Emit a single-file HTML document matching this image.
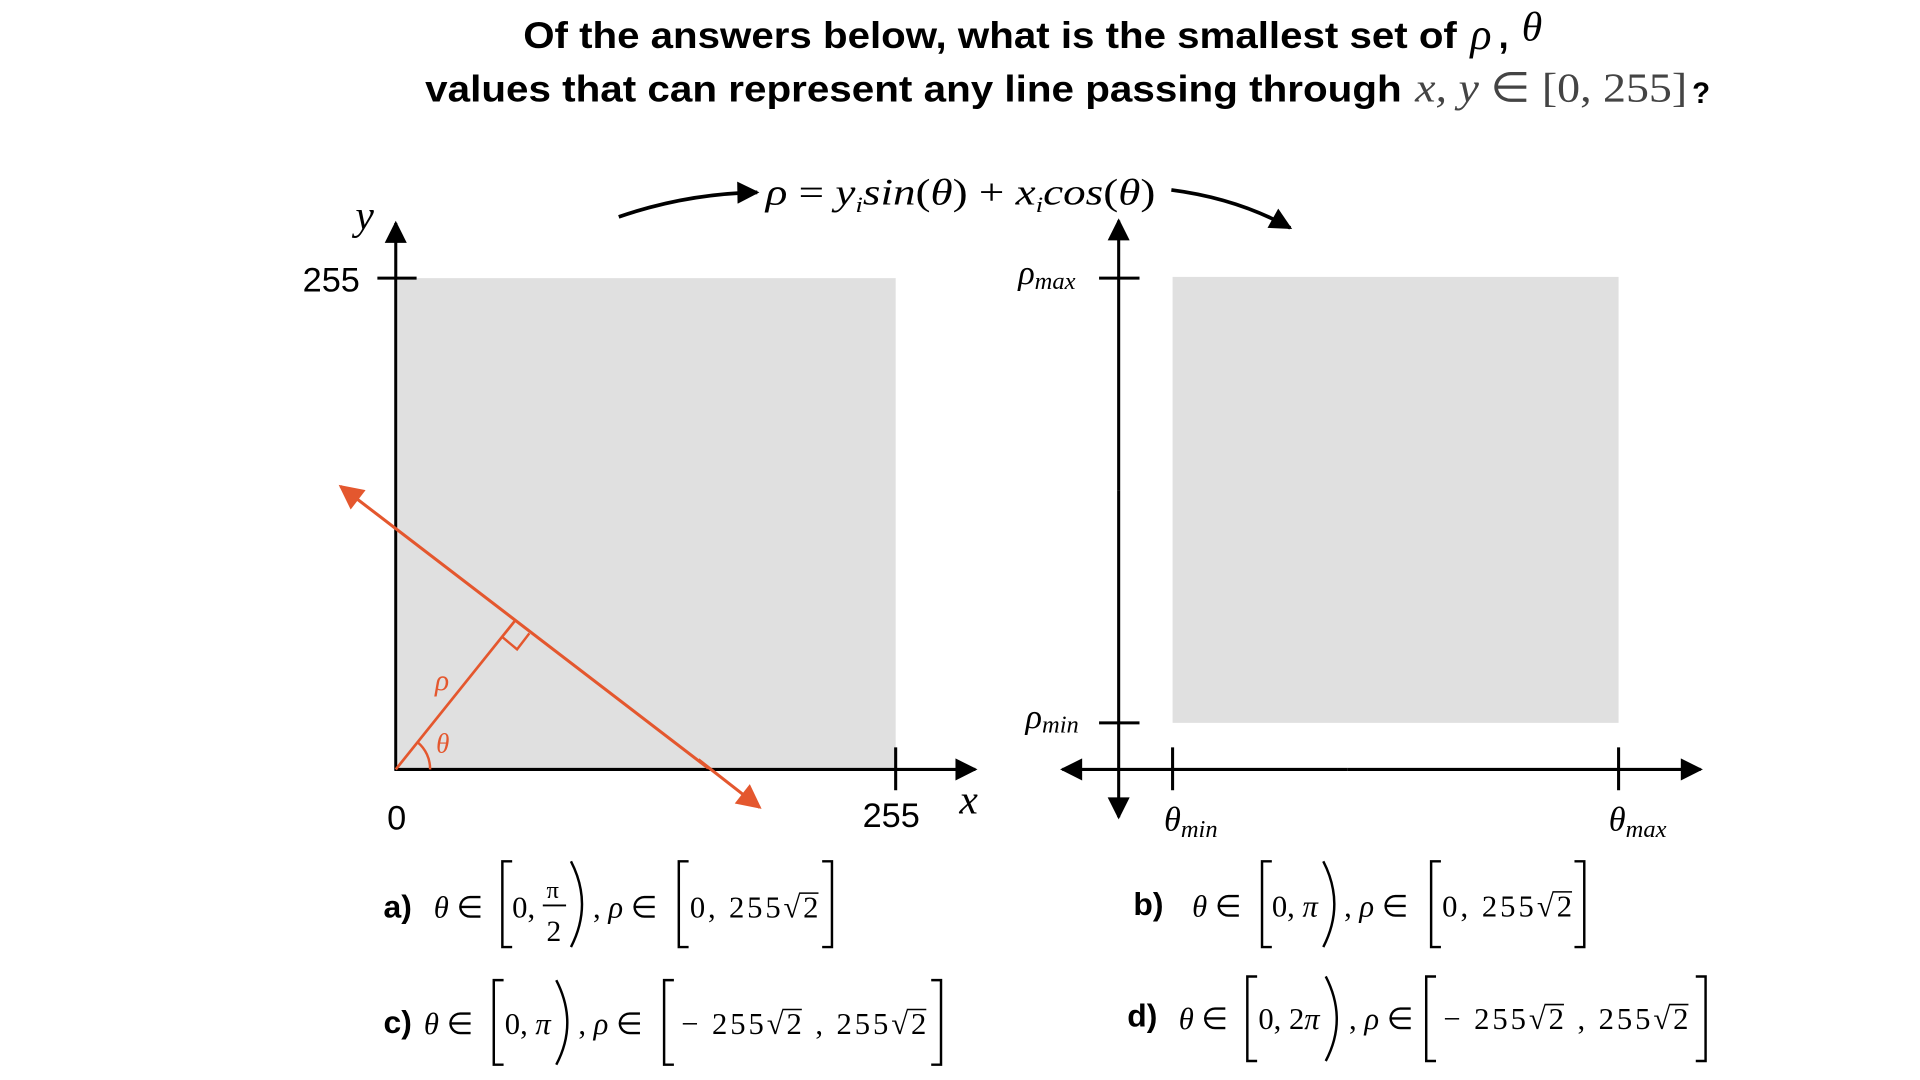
<!DOCTYPE html>
<html><head><meta charset="utf-8"><style>
html,body{margin:0;padding:0;background:#fff;width:1920px;height:1080px;overflow:hidden}
svg{display:block}
.t{font-family:"Liberation Sans",sans-serif;font-weight:bold;font-size:30px;fill:#000}
.m{font-family:"Liberation Serif",serif;font-style:italic;fill:#000}
.r{font-family:"Liberation Serif",serif;fill:#000}
.s{font-family:"Liberation Sans",sans-serif;fill:#000}
</style></head><body>
<svg id="fig" width="1920" height="1080" viewBox="0 0 1567 881.5" preserveAspectRatio="none">
<defs>
<marker id="ab" viewBox="0 0 10 10" refX="9" refY="5" markerWidth="26" markerHeight="18" orient="auto-start-reverse" markerUnits="userSpaceOnUse"><path d="M0,0 L10,5 L0,10 z" fill="#000"/></marker>
<marker id="ao" viewBox="0 0 10 10" refX="9" refY="5" markerWidth="26" markerHeight="20" orient="auto-start-reverse" markerUnits="userSpaceOnUse"><path d="M0,0 L10,5 L0,10 z" fill="#e4572e"/></marker>
</defs>
<g>
<text class="t" x="427" y="39" textLength="762" lengthAdjust="spacingAndGlyphs">Of the answers below, what is the smallest set of</text>
<text class="m" x="1200" y="40" font-size="36">ρ</text><text class="t" x="1223" y="39">,</text><text class="m" x="1242" y="33" font-size="34">θ</text>
<text class="t" x="347" y="83" textLength="797" lengthAdjust="spacingAndGlyphs">values that can represent any line passing through</text>
<text class="m" x="1155" y="83" font-size="34" style="fill:#444" textLength="222" lengthAdjust="spacingAndGlyphs">x, y <tspan style="font-style:normal">∈ [0, 255]</tspan></text>
<text class="t" x="1381" y="84" style="font-size:24px">?</text>
</g>
<g>
<path d="M505,177 Q560,158 618,157" fill="none" stroke="#000" stroke-width="3" marker-end="url(#ab)"/>
<text class="m" x="625" y="167" font-size="30" textLength="318" lengthAdjust="spacingAndGlyphs">ρ <tspan style="font-style:normal">=</tspan> y<tspan font-size="18" dy="6">i</tspan><tspan dy="-6">sin</tspan><tspan style="font-style:normal">(</tspan>θ<tspan style="font-style:normal">) + </tspan>x<tspan font-size="18" dy="6">i</tspan><tspan dy="-6">cos</tspan><tspan style="font-style:normal">(</tspan>θ<tspan style="font-style:normal">)</tspan></text>
<path d="M956,155 Q1010,162 1053,186" fill="none" stroke="#000" stroke-width="3" marker-end="url(#ab)"/>
</g>
<g>
<rect x="325" y="227" width="406" height="401" fill="#e0e0e0"/>
<line x1="323" y1="629" x2="323" y2="182" stroke="#000" stroke-width="2.5" marker-end="url(#ab)"/>
<line x1="322" y1="628" x2="796" y2="628" stroke="#000" stroke-width="2.5" marker-end="url(#ab)"/>
<line x1="308" y1="227" x2="340" y2="227" stroke="#000" stroke-width="2.5"/>
<line x1="731" y1="610" x2="731" y2="645" stroke="#000" stroke-width="2.5"/>
<text class="s" x="247" y="238" font-size="28">255</text>
<text class="s" x="316" y="677" font-size="28">0</text>
<text class="s" x="704" y="675" font-size="28">255</text>
<text class="m" x="783" y="664" font-size="34">x</text>
<text class="m" x="290" y="187" font-size="34">y</text>
<line x1="578" y1="627" x2="278" y2="397" stroke="#e4572e" stroke-width="2.5" marker-end="url(#ao)"/>
<line x1="570" y1="620" x2="620" y2="659" stroke="#e4572e" stroke-width="2.5" marker-end="url(#ao)"/>
<line x1="323" y1="628" x2="420" y2="507" stroke="#e4572e" stroke-width="2.2"/>
<path d="M410,520 L422,530 L432,517" fill="none" stroke="#e4572e" stroke-width="2"/>
<path d="M351,628 A28,28 0 0 0 341,606" fill="none" stroke="#e4572e" stroke-width="2"/>
<text class="m" x="355" y="563" font-size="24" style="fill:#e4572e">ρ</text>
<text class="m" x="356" y="614" font-size="22" style="fill:#e4572e">θ</text>
</g>
<g>
<rect x="957" y="226" width="364" height="364" fill="#e0e0e0"/>
<line x1="913" y1="400" x2="913" y2="180" stroke="#000" stroke-width="2.5" marker-end="url(#ab)"/>
<line x1="913" y1="400" x2="913" y2="667" stroke="#000" stroke-width="2.5" marker-end="url(#ab)"/>
<line x1="1100" y1="628" x2="867" y2="628" stroke="#000" stroke-width="2.5" marker-end="url(#ab)"/>
<line x1="1100" y1="628" x2="1388" y2="628" stroke="#000" stroke-width="2.5" marker-end="url(#ab)"/>
<line x1="897" y1="227" x2="930" y2="227" stroke="#000" stroke-width="2.5"/>
<line x1="897" y1="590" x2="930" y2="590" stroke="#000" stroke-width="2.5"/>
<line x1="957" y1="610" x2="957" y2="645" stroke="#000" stroke-width="2.5"/>
<line x1="1321" y1="610" x2="1321" y2="645" stroke="#000" stroke-width="2.5"/>
<text class="m" x="831" y="232" font-size="28">ρ<tspan font-size="20" dy="4">max</tspan></text>
<text class="m" x="837" y="594" font-size="28">ρ<tspan font-size="20" dy="4">min</tspan></text>
<text class="m" x="950" y="678" font-size="28">θ<tspan font-size="20" dy="5">min</tspan></text>
<text class="m" x="1313" y="678" font-size="28">θ<tspan font-size="20" dy="5">max</tspan></text>
</g>
<g>
<text class="t" x="313" y="749" style="font-size:26px">a)</text>
<text class="m" x="354" y="749" font-size="25">θ <tspan style="font-style:normal">∈</tspan></text>
<path d="M418,703 L410,703 L410,773 L418,773" fill="none" stroke="#000" stroke-width="2"/>
<text class="r" x="418" y="749" font-size="25">0,</text>
<text class="r" x="446" y="733" font-size="20">π</text><line x1="443" y1="739" x2="462" y2="739" stroke="#000" stroke-width="1.5"/><text class="r" x="446" y="768" font-size="24">2</text>
<path d="M466,703 Q484,738 466,773" fill="none" stroke="#000" stroke-width="2"/>
<text class="m" x="484" y="749" font-size="25"><tspan style="font-style:normal">, </tspan>ρ <tspan style="font-style:normal">∈</tspan></text>
<path d="M562,703 L554,703 L554,773 L562,773" fill="none" stroke="#000" stroke-width="2"/>
<text class="r sq" x="563" y="749" font-size="25" textLength="105" lengthAdjust="spacing">0, 255√2</text>
<path d="M671,703 L679,703 L679,773 L671,773" fill="none" stroke="#000" stroke-width="2"/>
</g>
<g>
<text class="t" x="925" y="747" style="font-size:26px">b)</text>
<text class="m" x="973" y="748" font-size="25">θ <tspan style="font-style:normal">∈</tspan></text>
<path d="M1038,703 L1030,703 L1030,773 L1038,773" fill="none" stroke="#000" stroke-width="2"/>
<text class="r" x="1038" y="748" font-size="25">0, <tspan style="font-style:italic">π</tspan></text>
<path d="M1080,703 Q1098,738 1080,773" fill="none" stroke="#000" stroke-width="2"/>
<text class="m" x="1097" y="748" font-size="25"><tspan style="font-style:normal">, </tspan>ρ <tspan style="font-style:normal">∈</tspan></text>
<path d="M1176,703 L1168,703 L1168,773 L1176,773" fill="none" stroke="#000" stroke-width="2"/>
<text class="r sq" x="1177" y="748" font-size="25" textLength="106" lengthAdjust="spacing">0, 255√2</text>
<path d="M1285,703 L1293,703 L1293,773 L1285,773" fill="none" stroke="#000" stroke-width="2"/>
</g>
<g>
<text class="t" x="313" y="843" style="font-size:26px">c)</text>
<text class="m" x="346" y="844" font-size="25">θ <tspan style="font-style:normal">∈</tspan></text>
<path d="M411,800 L403,800 L403,869 L411,869" fill="none" stroke="#000" stroke-width="2"/>
<text class="r" x="412" y="844" font-size="25">0, <tspan style="font-style:italic">π</tspan></text>
<path d="M454,800 Q472,835 454,869" fill="none" stroke="#000" stroke-width="2"/>
<text class="m" x="472" y="844" font-size="25"><tspan style="font-style:normal">, </tspan>ρ <tspan style="font-style:normal">∈</tspan></text>
<path d="M550,800 L542,800 L542,869 L550,869" fill="none" stroke="#000" stroke-width="2"/>
<text class="r sq" x="556" y="844" font-size="25" textLength="200" lengthAdjust="spacing">− 255√2 , 255√2</text>
<path d="M760,800 L768,800 L768,869 L760,869" fill="none" stroke="#000" stroke-width="2"/>
</g>
<g>
<text class="t" x="920" y="838" style="font-size:26px">d)</text>
<text class="m" x="962" y="840" font-size="25">θ <tspan style="font-style:normal">∈</tspan></text>
<path d="M1026,797 L1018,797 L1018,866 L1026,866" fill="none" stroke="#000" stroke-width="2"/>
<text class="r" x="1027" y="840" font-size="25">0, 2<tspan style="font-style:italic">π</tspan></text>
<path d="M1082,797 Q1100,832 1082,866" fill="none" stroke="#000" stroke-width="2"/>
<text class="m" x="1101" y="840" font-size="25"><tspan style="font-style:normal">, </tspan>ρ <tspan style="font-style:normal">∈</tspan></text>
<path d="M1172,797 L1164,797 L1164,866 L1172,866" fill="none" stroke="#000" stroke-width="2"/>
<text class="r sq" x="1178" y="840" font-size="25" textLength="200" lengthAdjust="spacing">− 255√2 , 255√2</text>
<path d="M1384,797 L1392,797 L1392,866 L1384,866" fill="none" stroke="#000" stroke-width="2"/>
</g>
</svg>
<script>
var sqTexts = document.querySelectorAll('text.sq');
sqTexts.forEach(function (t) {
  var s = t.textContent;
  for (var i = 0; i < s.length; i++) {
    if (s[i] === '√' && i + 1 < s.length) {
      try {
        var r1 = t.getExtentOfChar(i);
        var r2 = t.getExtentOfChar(i + 1);
        var ln = document.createElementNS('http://www.w3.org/2000/svg', 'line');
        
        
        ln.setAttribute('x1', r1.x + r1.width - 1);
        ln.setAttribute('x2', r2.x + r2.width);
        ln.setAttribute('y1', r1.y + 2);
        ln.setAttribute('y2', r1.y + 2);
        ln.setAttribute('stroke', '#000');
        ln.setAttribute('stroke-width', '1.3');
        t.parentNode.appendChild(ln);
      } catch (e) {}
    }
  }
});
</script>
</body></html>
